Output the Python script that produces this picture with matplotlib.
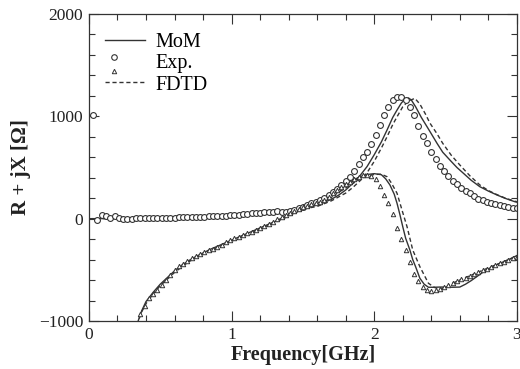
import numpy as np
import matplotlib
matplotlib.use('Agg')
import matplotlib.pyplot as plt
from matplotlib.lines import Line2D
from matplotlib.legend_handler import HandlerBase
from matplotlib.ticker import MultipleLocator

plt.rcParams['font.family'] = ['Liberation Serif', 'DejaVu Serif']

# measured data (Exp.), GHz / ohm
f_exp = [0.03, 0.06, 0.09, 0.12, 0.15, 0.18, 0.21, 0.24, 0.27, 0.30, 0.33, 0.36, 0.39, 0.42, 0.45,
         0.48, 0.51, 0.54, 0.57, 0.60, 0.63, 0.66, 0.69, 0.72, 0.75, 0.78, 0.81, 0.84, 0.87, 0.90,
         0.93, 0.96, 0.99, 1.02, 1.05, 1.08, 1.11, 1.14, 1.17, 1.20, 1.23, 1.26, 1.29, 1.32, 1.35,
         1.38, 1.41, 1.44, 1.47, 1.50, 1.53, 1.56, 1.59, 1.62, 1.65, 1.68, 1.71, 1.74, 1.77, 1.80,
         1.83, 1.86, 1.89, 1.92, 1.95, 1.98, 2.01, 2.04, 2.07, 2.10, 2.13, 2.16, 2.19, 2.22, 2.25,
         2.28, 2.31, 2.34, 2.37, 2.40, 2.43, 2.46, 2.49, 2.52, 2.55, 2.58, 2.61, 2.64, 2.67, 2.70,
         2.73, 2.76, 2.79, 2.82, 2.85, 2.88, 2.91, 2.94, 2.97, 3.00]
r_exp = [1010, -10, 35, 30, 5, 25, 10, 0, 0, 0, 2, 3, 4, 5, 6,
         7, 8, 9, 10, 11, 12, 13, 14, 15, 16, 18, 20, 22, 24, 26,
         28, 31, 34, 37, 40, 43, 47, 51, 55, 58, 62, 66, 70, 72, 68,
         70, 78, 88, 100, 115, 130, 150, 168, 185, 205, 230, 260, 290, 325, 365,
         410, 470, 535, 600, 655, 730, 820, 915, 1010, 1090, 1160, 1190, 1192, 1160, 1094,
         1010, 910, 810, 737, 655, 580, 515, 465, 415, 370, 335, 300, 275, 250, 225,
         190, 178, 165, 155, 140, 130, 122, 114, 107, 100]

f_exp_x = [0.36, 0.39, 0.42, 0.45, 0.48, 0.51, 0.54, 0.57, 0.60, 0.63, 0.66, 0.69, 0.72, 0.75,
           0.78, 0.81, 0.84, 0.87, 0.90, 0.93, 0.96, 0.99, 1.02, 1.05, 1.08, 1.11, 1.14, 1.17,
           1.20, 1.23, 1.26, 1.29, 1.32, 1.35, 1.38, 1.41, 1.44, 1.47, 1.50, 1.53, 1.56, 1.59,
           1.62, 1.65, 1.68, 1.71, 1.74, 1.77, 1.80, 1.83, 1.86, 1.89, 1.92, 1.95, 1.98, 2.01,
           2.04, 2.07, 2.10, 2.13, 2.16, 2.19, 2.22, 2.25, 2.28, 2.31, 2.34, 2.37, 2.40, 2.43,
           2.46, 2.49, 2.52, 2.55, 2.58, 2.61, 2.64, 2.67, 2.70, 2.73, 2.76, 2.79, 2.82, 2.85,
           2.88, 2.91, 2.94, 2.97, 3.00]
x_exp = [-930, -850, -775, -735, -695, -645, -598, -550, -500, -465, -440, -410, -388, -368,
         -348, -328, -310, -292, -275, -258, -230, -210, -192, -176, -160, -143, -126, -110,
         -92, -72, -50, -28, -5, 15, 38, 58, 78, 96, 112, 128, 142, 152,
         160, 180, 215, 250, 280, 305, 335, 360, 385, 410, 425, 430, 420, 390,
         320, 230, 150, 45, -94, -201, -306, -420, -545, -610, -665, -697, -705, -700,
         -690, -665, -645, -628, -610, -592, -575, -558, -540, -523, -505, -488, -470, -455,
         -437, -420, -405, -388, -370]

# MoM
f_mom_r = [0.0, 0.2, 0.4, 0.6, 0.8, 1.0, 1.1, 1.2, 1.3, 1.4, 1.5, 1.6, 1.65, 1.7, 1.75, 1.8,
           1.85, 1.9, 1.95, 2.0, 2.05, 2.09, 2.13, 2.16, 2.19, 2.21, 2.24, 2.26, 2.29, 2.33,
           2.37, 2.40, 2.44, 2.48, 2.53, 2.58, 2.625, 2.68, 2.74, 2.80, 2.86, 2.92, 2.985, 3.0]
r_mom = [0, 2, 5, 10, 18, 28, 35, 45, 58, 75, 98, 135, 160, 190, 230, 280,
         346, 420, 510, 625, 750, 867, 990, 1062, 1130, 1160, 1180, 1160, 1094, 990,
         899, 830, 737, 650, 574, 500, 444, 375, 313, 270, 232, 198, 166, 162]
f_mom_x = [0.33, 0.37, 0.40, 0.45, 0.50, 0.55, 0.60, 0.65, 0.70, 0.75, 0.80, 0.85, 0.90, 0.95,
           1.00, 1.05, 1.10, 1.15, 1.20, 1.25, 1.30, 1.35, 1.40, 1.45, 1.50, 1.55, 1.60, 1.65,
           1.70, 1.75, 1.80, 1.85, 1.90, 1.95, 2.00, 2.05, 2.08, 2.11, 2.14, 2.16, 2.18, 2.20,
           2.22, 2.25, 2.27, 2.29, 2.32, 2.35, 2.38, 2.42, 2.46, 2.50, 2.55, 2.60, 2.64, 2.68,
           2.72, 2.76, 2.80, 2.85, 2.90, 2.95, 3.00]
x_mom = [-1060, -900, -810, -720, -640, -575, -510, -455, -410, -370, -335, -300, -270, -240,
         -210, -180, -150, -120, -90, -60, -30, 5, 40, 75, 105, 135, 165, 195,
         235, 280, 330, 375, 410, 432, 440, 430, 390, 330, 240, 150, 40, -78,
         -190, -306, -400, -469, -582, -640, -670, -670, -668, -668, -670, -668, -640, -605,
         -565, -525, -490, -455, -425, -395, -360]

# FDTD
f_fdtd_r = [0.0, 0.2, 0.4, 0.6, 0.8, 1.0, 1.2, 1.4, 1.6, 1.7, 1.8, 1.85, 1.9, 1.95, 2.0, 2.05,
            2.09, 2.13, 2.16, 2.20, 2.24, 2.285, 2.32, 2.36, 2.39, 2.44, 2.48, 2.54, 2.60,
            2.67, 2.74, 2.80, 2.86, 2.92, 3.0]
r_fdtd = [0, 2, 5, 10, 17, 26, 42, 68, 120, 175, 250, 305, 370, 450, 560, 690,
          801, 920, 996, 1094, 1150, 1176, 1120, 1020, 935, 830, 737, 620, 525,
          420, 330, 275, 235, 200, 165]
f_fdtd_x = [0.335, 0.37, 0.40, 0.45, 0.50, 0.60, 0.70, 0.80, 0.90, 1.00, 1.10, 1.20, 1.30,
            1.40, 1.50, 1.60, 1.70, 1.80, 1.85, 1.90, 1.95, 2.00, 2.05, 2.09, 2.12, 2.16,
            2.20, 2.23, 2.27, 2.32, 2.38, 2.42, 2.46, 2.50, 2.55, 2.60, 2.64, 2.70, 2.80,
            2.90, 3.00]
x_fdtd = [-1040, -910, -830, -735, -655, -525, -420, -345, -280, -220, -160, -100, -40,
          25, 95, 150, 215, 300, 345, 385, 415, 432, 435, 410, 350, 248,
          60, -78, -306, -469, -631, -670, -690, -670, -630, -600, -575, -540, -480,
          -425, -365]

ink = '#333333'


class HandlerExp(HandlerBase):
    # circle over triangle, like the printed legend
    def create_artists(self, legend, orig_handle, xdescent, ydescent,
                       width, height, fontsize, trans):
        xm = width * 0.22 - xdescent
        c = Line2D([xm], [height * 0.8], ls='none', marker='o', ms=4,
                   mfc='none', mec=ink, mew=0.8, transform=trans)
        t = Line2D([xm], [-height * 0.2], ls='none', marker='^', ms=3.2,
                   mfc='none', mec=ink, mew=0.7, transform=trans)
        return [c, t]


fig = plt.figure(figsize=(5.2, 3.69), dpi=100)
ax = fig.add_axes([0.171, 0.130, 0.823, 0.832])

ax.plot(f_mom_r, r_mom, '-', color=ink, lw=1.0)
ax.plot(f_mom_x, x_mom, '-', color=ink, lw=1.0)
ax.plot(f_fdtd_r, r_fdtd, '--', color=ink, lw=1.0, dashes=(3, 2))
ax.plot(f_fdtd_x, x_fdtd, '--', color=ink, lw=1.0, dashes=(3, 2))
ax.plot(f_exp, r_exp, 'o', ms=4.2, mfc='white', mec=ink, mew=0.8)
ax.plot(f_exp_x, x_exp, '^', ms=3.2, mfc='white', mec=ink, mew=0.7)

ax.set_xlim(0, 3)
ax.set_ylim(-1000, 2000)
ax.xaxis.set_major_locator(MultipleLocator(1))
ax.xaxis.set_minor_locator(MultipleLocator(0.2))
ax.yaxis.set_major_locator(MultipleLocator(1000))
ax.yaxis.set_minor_locator(MultipleLocator(200))
ax.tick_params(which='both', direction='in', top=True, right=True, colors=ink,
               labelcolor='#222222', labelsize=12.5, width=0.8)
ax.tick_params(which='major', length=7, pad=4)
ax.tick_params(which='minor', length=4)
for s in ax.spines.values():
    s.set_color(ink)
    s.set_linewidth(0.9)

ax.set_xlabel('Frequency[GHz]', fontsize=14.5, fontweight='bold', color='#222222', labelpad=2)
ax.set_ylabel('R + jX [Ω]', fontsize=15, fontweight='bold', color='#222222', labelpad=6)

h_mom = Line2D([], [], color=ink, lw=1.0)
h_exp = Line2D([], [], ls='none', marker='o')
h_fdtd = Line2D([], [], color=ink, lw=1.0, ls='--', dashes=(3, 2))
ax.legend([h_mom, h_exp, h_fdtd], ['MoM', 'Exp.', 'FDTD'],
          handler_map={h_exp: HandlerExp()}, loc='upper left',
          bbox_to_anchor=(0.0, 0.99), frameon=False, fontsize=14.5,
          handlelength=2.0, handletextpad=0.5, labelspacing=0.1, borderaxespad=0.4)

fig.savefig('out.png', dpi=100)
